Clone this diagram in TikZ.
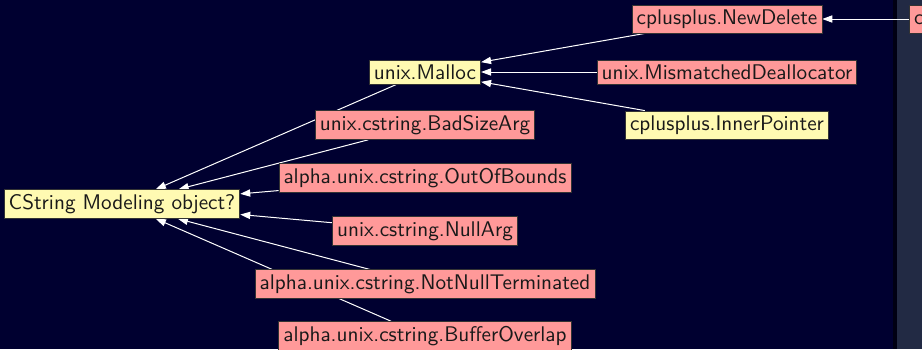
\documentclass[tikz,border=0pt]{standalone}
\usetikzlibrary{arrows.meta}
\definecolor{navy}{RGB}{0,0,48}
\definecolor{slate}{RGB}{34,42,68}
\definecolor{pinkbox}{RGB}{255,153,153}
\definecolor{yellowbox}{RGB}{255,250,178}
\pgfdeclarelayer{bg}
\pgfdeclarelayer{edges}
\pgfsetlayers{bg,edges,main}

\begin{document}
\begin{tikzpicture}[x=0.5pt,y=-0.5pt,
  chk/.style={draw=black!80,line width=0.4pt,inner sep=2.3pt,font=\fontsize{10.6}{12}\sffamily\selectfont,text=black!90},
  bad/.style={chk,fill=pinkbox},
  ok/.style={chk,fill=yellowbox},
  dep/.style={draw=white,line width=0.5pt,-{Triangle[length=5pt,width=3.6pt]}}]
\useasboundingbox (0,0) rectangle (922,349);
\clip (0,0) rectangle (922,349);
\begin{pgfonlayer}{bg}
\fill[navy] (0,0) rectangle (922,349);
\fill[slate] (895,0) rectangle (922,349);
\fill[black!60!navy] (893,0) rectangle (897,349); % shadow
\end{pgfonlayer}
\node[ok] (cs) at (122,204) {CString Modeling object?};
\node[ok] (malloc) at (425,72) {unix.Malloc};
\foreach \name/\txt/\y in {bsa/unix.cstring.BadSizeArg/125, oob/alpha.unix.cstring.OutOfBounds/178, null/unix.cstring.NullArg/231, nnt/alpha.unix.cstring.NotNullTerminated/284, bov/alpha.unix.cstring.BufferOverlap/336}
  \node[bad] (\name) at (425,\y) {\txt};
\node[bad] (nd) at (727,19) {cplusplus.NewDelete};
\node[bad] (mism) at (727,72) {unix.MismatchedDeallocator};
\node[ok] (inner) at (727,125) {cplusplus.InnerPointer};
\node[bad,anchor=west] (leaks) at (909,19) {cplusplus.NewDeleteLeaks};
\begin{pgfonlayer}{edges}
\foreach \n in {malloc,bsa,oob,null,nnt,bov} \draw[dep] (\n) -- (cs);
\foreach \n in {nd,mism,inner} \draw[dep] (\n) -- (malloc);
\draw[dep] (leaks) -- (nd);
\end{pgfonlayer}
\end{tikzpicture}
\end{document}
